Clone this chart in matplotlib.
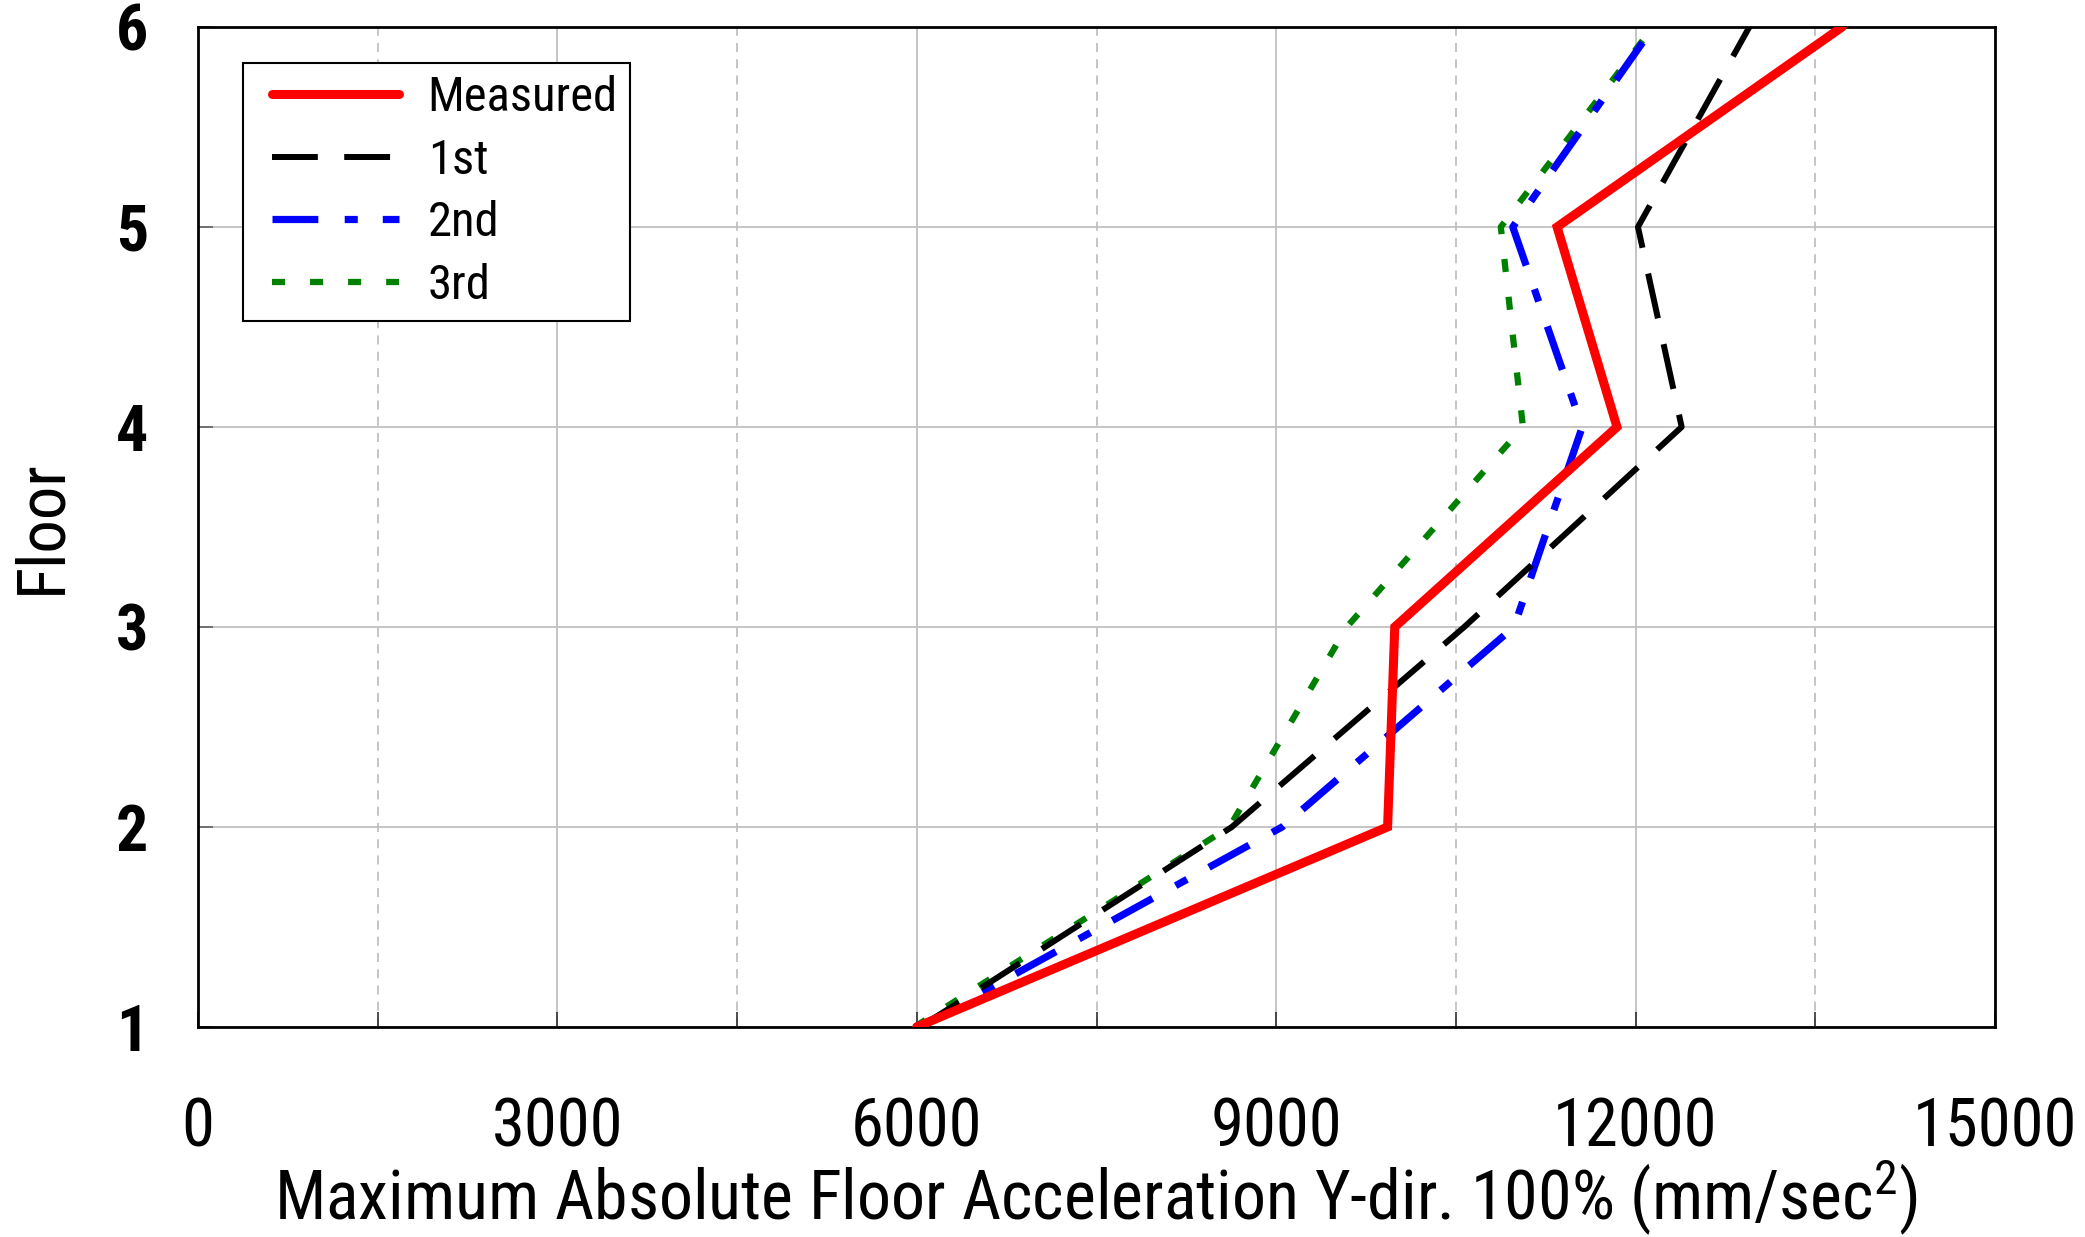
import matplotlib
matplotlib.use("Agg")
import matplotlib.pyplot as plt
from matplotlib.ticker import MultipleLocator, FixedLocator
from matplotlib.legend_handler import HandlerLine2D
from matplotlib.lines import Line2D

floors = [1, 2, 3, 4, 5, 6]
measured = [6000, 9930, 9990, 11845, 11345, 13725]
first = [6030, 8630, 10570, 12385, 12020, 12950]
second = [6020, 9050, 10985, 11555, 10975, 12150]
third = [5980, 8610, 9590, 11060, 10875, 12145]
labels = ["Measured", "1st", "2nd", "3rd"]
xticks_major = [0, 3000, 6000, 9000, 12000, 15000]

NARROW = ["Roboto Condensed", "Archivo Narrow", "Liberation Sans", "DejaVu Sans"]
plt.rcParams['font.family'] = NARROW
plt.rcParams['mathtext.fontset'] = 'custom'
plt.rcParams['mathtext.rm'] = 'Roboto Condensed'
plt.rcParams['mathtext.default'] = 'regular'

fig = plt.figure(figsize=(20.85, 12.37), dpi=100)
ax = fig.add_axes([0.0950, 0.1698, 0.8618, 0.8084])

def ls(pattern, lw):
    return (0, tuple(p / lw for p in pattern))

ax.plot(measured, floors, color='#ff0000', lw=6.5, solid_capstyle='round',
        solid_joinstyle='miter', label=labels[0], zorder=5)
lw1 = 4.3
ax.plot(first, floors, color='black', lw=lw1, linestyle=ls((33, 19), lw1),
        label=labels[1], zorder=4)
lw2 = 5.2
ax.plot(second, floors, color='#0000ff', lw=lw2, linestyle=ls((33, 19, 9.4, 18), lw2),
        label=labels[2], zorder=3)
lw3 = 4.5
ax.plot(third, floors, color='#008000', lw=lw3, linestyle=ls((9.4, 18), lw3),
        label=labels[3], zorder=2)

ax.set_xlim(0, 15000)
ax.set_ylim(1, 6)
ax.xaxis.set_major_locator(FixedLocator(xticks_major))
ax.xaxis.set_minor_locator(MultipleLocator(1500))
ax.yaxis.set_major_locator(MultipleLocator(1))

ax.grid(True, which='major', axis='both', color='#c0c0c0', lw=1.3, ls='-')
ax.grid(True, which='minor', axis='x', color='#c0c0c0', lw=1.3, ls=(0, (5, 4)))
ax.set_axisbelow(True)

for s in ax.spines.values():
    s.set_linewidth(2.0)
    s.set_color('black')

ax.tick_params(axis='x', which='both', direction='in', length=11, width=1.2,
               color='#303030', pad=50)
ax.tick_params(axis='x', which='major', labelsize=48)
ax.tick_params(axis='y', which='major', direction='in', length=11, width=1.2,
               color='#606060', pad=36)
for t in ax.get_yticklabels():
    t.set_fontweight('bold')
    t.set_fontsize(46)

ax.set_xlabel(r"Maximum Absolute Floor Acceleration Y-dir. 100% (mm/sec$^{2}$)",
              fontsize=49, labelpad=-2)
ax.set_ylabel("Floor", fontsize=48)
ax.yaxis.set_label_coords(-0.069, 0.5)

hmap = {Line2D: HandlerLine2D(xpad=0.35)}
leg = ax.legend(loc='upper left', bbox_to_anchor=(243 / 2085, 1 - 63 / 1237),
                bbox_transform=fig.transFigure, borderaxespad=0,
                fontsize=35, frameon=True, fancybox=False, shadow=False,
                handlelength=2.96, handletextpad=0.59, borderpad=0.25,
                labelspacing=0.34, handler_map=hmap)
leg.get_frame().set_edgecolor('black')
leg.get_frame().set_linewidth(1.5)
leg.get_frame().set_alpha(1)

fig.savefig("out.png", dpi=100)
